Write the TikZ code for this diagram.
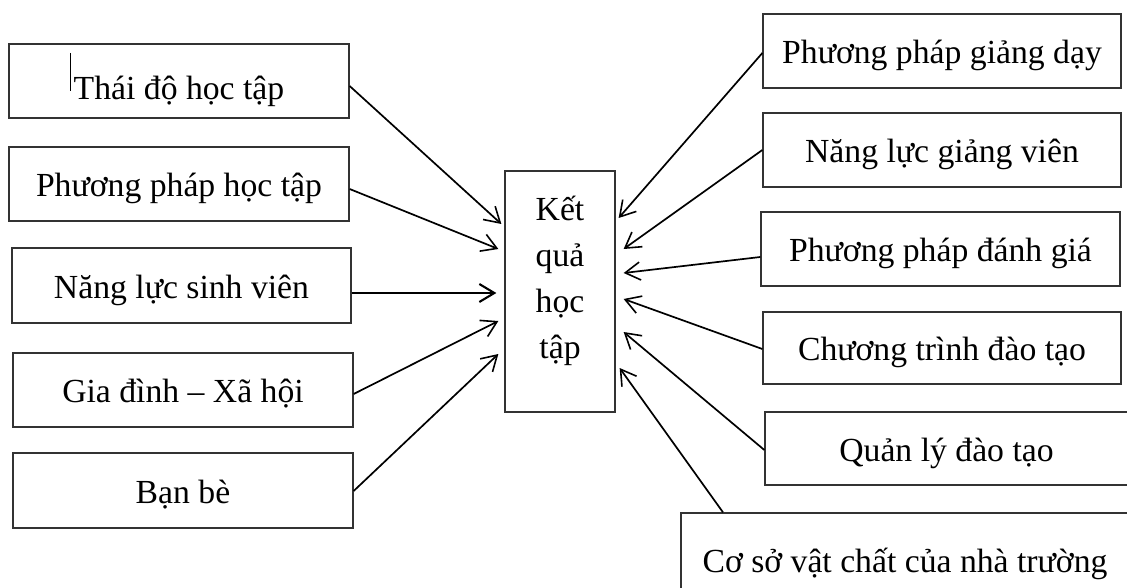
\documentclass[tikz,border=0pt]{standalone}
\usepackage{fontspec}
\setmainfont{Liberation Serif}
\usetikzlibrary{arrows.meta}
\definecolor{boxc}{HTML}{333333}
\tikzset{
  box/.style={draw=boxc, line width=1.3pt, minimum height=74pt, inner sep=0pt,
    text height=30pt, text depth=5pt, font=\fontsize{33.7}{46}\selectfont},
  arr/.style={line width=1.7pt, -{Straight Barb[length=15pt,width=18pt,line width=1.6pt]}},
  arrb/.style={line width=2.3pt, -{Straight Barb[length=15pt,width=18pt,line width=2.1pt]}}
}
\begin{document}
\begin{tikzpicture}[x=1pt,y=-1pt]
\useasboundingbox (0,0) rectangle (1127,588);
\fill[white] (0,0) rectangle (1127,588);
% left boxes
\node[box, minimum width=340pt] (b1) at (179,81) {\raisebox{-6pt}{Thái độ học tập}};
\node[box, minimum width=340pt] (b2) at (179,184) {Phương pháp học tập};
\node[box, minimum width=339pt, minimum height=75pt] (b3) at (181.5,285.5) {Năng lực sinh viên};
\node[box, minimum width=340pt] (b4) at (183,390) {Gia đình – Xã hội};
\node[box, minimum width=340pt, minimum height=75pt] (b5) at (183,490.5) {Bạn bè};
% cursor mark
\coordinate (k1) at (70,53);
\coordinate (k2) at (70,91);
\draw[line width=1pt] (k1) -- (k2);
% centre box
\node[draw=boxc, line width=1.3pt, minimum width=110pt, minimum height=241pt, inner sep=0pt] (c) at (560,291.5) {};
\node[anchor=base, inner sep=0pt, font=\fontsize{33.7}{46}\selectfont] (ct) at (560,221)
  {\begin{tabular}[t]{@{}c@{}}Kết\\quả\\học\\tập\end{tabular}};
% right boxes
\node[box, minimum width=358pt] (r1) at (942,51) {Phương pháp giảng dạy};
\node[box, minimum width=358pt] (r2) at (942,150) {Năng lực giảng viên};
\node[box, minimum width=359pt] (r3) at (940.5,249) {Phương pháp đánh giá};
\node[box, minimum width=358pt, minimum height=72pt] (r4) at (942,348) {Chương trình đào tạo};
\node[box, minimum width=363pt, minimum height=73pt] (r5) at (946.5,448.5) {Quản lý đào tạo};
\node[box, minimum width=448pt, minimum height=93pt] (r6) at (905,559.5) {Cơ sở vật chất của nhà trường};
% left arrows
\draw[arr] ([yshift=-5pt]b1.east) -- ([xshift=-3pt,yshift=67.5pt]c.west);
\draw[arr] ([yshift=-5pt]b2.east) -- ([xshift=-6pt,yshift=42.5pt]c.west);
\draw[arrb] ([yshift=-7.5pt]b3.east) -- ([xshift=-8pt,yshift=-1.5pt]c.west);
\draw[arr] ([yshift=-4pt]b4.east) -- ([xshift=-6pt,yshift=-29.5pt]c.west);
\draw[arr] ([yshift=-0.5pt]b5.east) -- ([xshift=-6pt,yshift=-62.5pt]c.west);
% right arrows
\draw[arr] ([yshift=-2pt]r1.west) -- ([xshift=3pt,yshift=73.5pt]c.east);
\draw[arr] (r2.west) -- ([xshift=8pt,yshift=42.5pt]c.east);
\draw[arr] ([yshift=-8pt]r3.west) -- ([xshift=8pt,yshift=18.5pt]c.east);
\draw[arr] ([yshift=-1pt]r4.west) -- ([xshift=8pt,yshift=-7.5pt]c.east);
\draw[arr] ([yshift=-1.5pt]r5.west) -- ([xshift=8pt,yshift=-40.5pt]c.east);
\draw[arr] ([xshift=-182pt]r6.north) -- ([xshift=4pt,yshift=-76.5pt]c.east);
\end{tikzpicture}
\end{document}
